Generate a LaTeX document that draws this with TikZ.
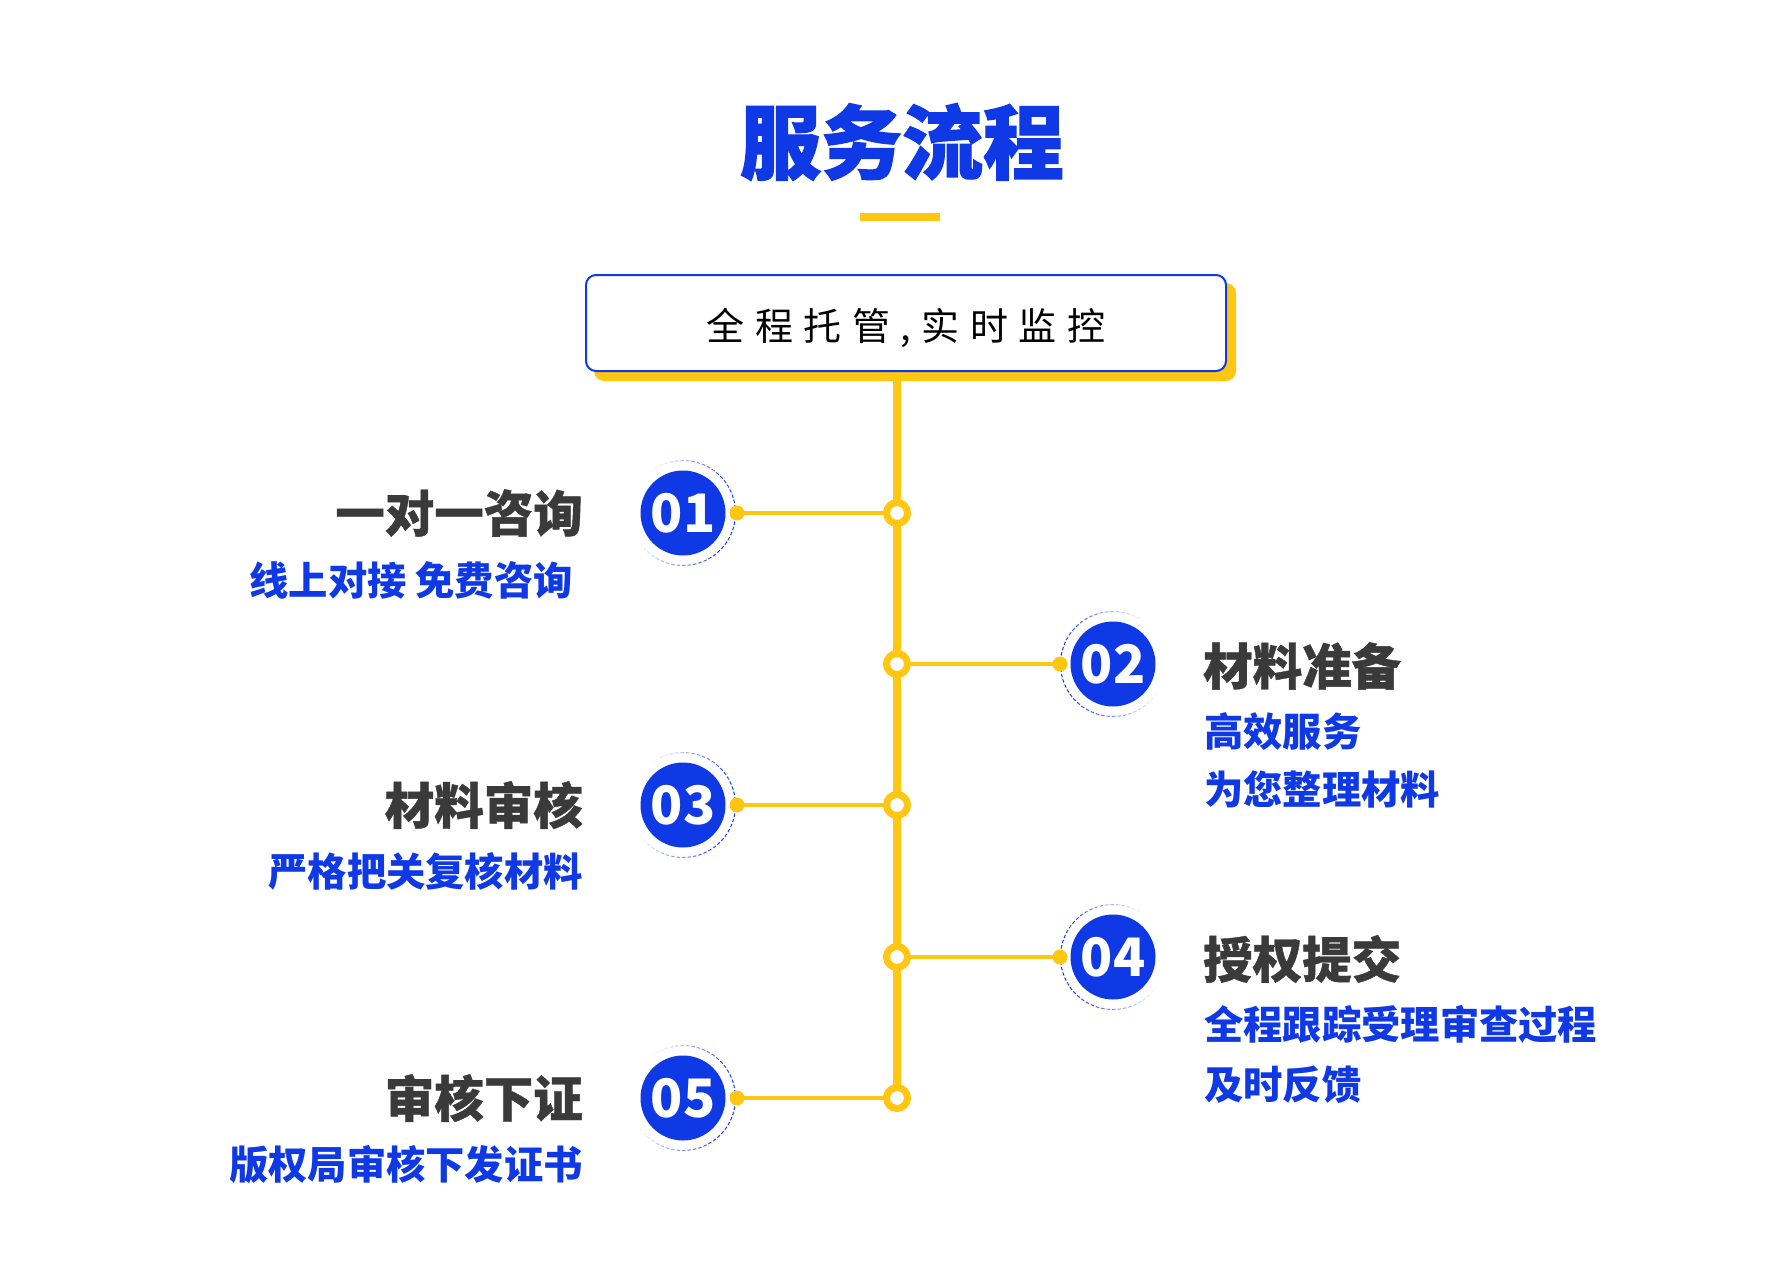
\documentclass[tikz,border=0pt]{standalone}
\usepackage{fontspec}
\setmainfont{Noto Sans CJK SC}
\newfontfamily\heavyfont{Noto Sans CJK SC}[BoldFeatures={FakeBold=1.6}]
\newfontfamily\semiheavy{Noto Sans CJK SC}[BoldFeatures={FakeBold=0.8}]
\definecolor{brandblue}{RGB}{16,57,230}
\definecolor{brandyellow}{RGB}{255,198,18}
\definecolor{darktext}{RGB}{58,58,58}
\pgfdeclarelayer{bg}
\pgfdeclarelayer{lines}
\pgfsetlayers{bg,lines,main}
\tikzset{
  stepnum/.style={circle, fill=brandblue, minimum size=85pt, inner sep=0pt, text=white,
    font=\bfseries\fontsize{53}{53}\selectfont},
  junction/.style={circle, draw=brandyellow, line width=7pt, fill=white, minimum size=21pt, inner sep=0pt},
  ydot/.style={circle, fill=brandyellow, minimum size=15pt, inner sep=0pt},
  trunk/.style={brandyellow, line width=8pt},
  branch/.style={brandyellow, line width=4.5pt},
  headtext/.style={text=darktext, inner sep=0pt, font=\semiheavy\bfseries\fontsize{49.5}{49.5}\selectfont},
  subtext/.style={text=brandblue, inner sep=0pt, font=\bfseries\fontsize{39.3}{39.3}\selectfont},
}
\newcommand\ringgrad[2]{%
  \foreach \a in {0,6,...,354}{%
    \pgfmathsetmacro\pp{max(0,min(100,45+60*cos(\a+3-#2)))}%
    \draw[brandblue!\pp!white, line width=1pt, dash pattern=on 2.5pt off 2pt]
      ([shift={(\a:52.5pt)}]#1.center) arc[start angle=\a, end angle=\a+6, radius=52.5pt];
  }%
}
\begin{document}
\begin{tikzpicture}[x=1pt,y=-1pt]
\begin{pgfonlayer}{bg}
  \fill[white] (0,0) rectangle (1780,1282);
\end{pgfonlayer}
\useasboundingbox (0,0) rectangle (1780,1282);

% title
\node[text=brandblue, inner sep=0pt, font=\heavyfont\bfseries\fontsize{81}{81}\selectfont] (title) at (902,142) {服务流程};
\node[fill=brandyellow, minimum width=80pt, minimum height=8pt, inner sep=0pt] (bar) at (900,217) {};

% top box
\node[draw=brandblue, line width=2pt, rounded corners=10pt, fill=white,
      minimum width=640pt, minimum height=96pt, inner sep=0pt] (box) at (906,323) {};
\node[inner sep=0pt, font=\fontsize{38}{38}\selectfont] (boxtext) at (906,328)
  {全\kern10.5pt 程\kern10.5pt 托\kern10.5pt 管\kern10.5pt ,\kern10.5pt 实\kern10.5pt 时\kern10.5pt 监\kern10.5pt 控};
\begin{pgfonlayer}{bg}
  \fill[brandyellow, rounded corners=10pt] ([shift={(9pt,-9pt)}]box.south west) rectangle ([shift={(9pt,-9pt)}]box.north east);
\end{pgfonlayer}

% junctions
\node[junction] (j1) at (897,513) {};
\node[junction] (j2) at (897,664) {};
\node[junction] (j3) at (897,805) {};
\node[junction] (j4) at (897,957) {};
\node[junction] (j5) at (897,1098) {};

% step circles
\node[stepnum] (n1) at (683,513) {01};
\node[stepnum] (n2) at (1113,664) {02};
\node[stepnum] (n3) at (683,805) {03};
\node[stepnum] (n4) at (1113,957) {04};
\node[stepnum] (n5) at (683,1098) {05};

\ringgrad{n1}{-10}
\ringgrad{n2}{190}
\ringgrad{n3}{-10}
\ringgrad{n4}{190}
\ringgrad{n5}{-10}

% dots on rings
\node[ydot] (d1) at ([xshift=54pt]n1.center) {};
\node[ydot] (d2) at ([xshift=-53pt]n2.center) {};
\node[ydot] (d3) at ([xshift=54pt]n3.center) {};
\node[ydot] (d4) at ([xshift=-53pt]n4.center) {};
\node[ydot] (d5) at ([xshift=54pt]n5.center) {};

% connectors
\begin{pgfonlayer}{lines}
  \draw[trunk] (j1 |- box.south) -- (j5.center);
  \draw[branch] (d1.center) -- (j1.center);
  \draw[branch] (j2.center) -- (d2.center);
  \draw[branch] (d3.center) -- (j3.center);
  \draw[branch] (j4.center) -- (d4.center);
  \draw[branch] (d5.center) -- (j5.center);
\end{pgfonlayer}

% texts left
\node[headtext, anchor=east] (h1) at (583,513) {一对一咨询};
\node[subtext, anchor=east] (s1) at (573,580) {线上对接 免费咨询};
\node[headtext, anchor=east] (h3) at (583,805) {材料审核};
\node[subtext, anchor=east] (s3) at (583,871) {严格把关复核材料};
\node[headtext, anchor=east] (h5) at (583,1098) {审核下证};
\node[subtext, anchor=east] (s5) at (583,1165) {版权局审核下发证书};

% texts right
\node[headtext, anchor=west] (h2) at (1203,666) {材料准备};
\node[subtext, anchor=west] (s2a) at (1204,731) {高效服务};
\node[subtext, anchor=west] (s2b) at (1204,789) {为您整理材料};
\node[headtext, anchor=west] (h4) at (1203,959) {授权提交};
\node[subtext, anchor=west] (s4a) at (1204,1024) {全程跟踪受理审查过程};
\node[subtext, anchor=west] (s4b) at (1204,1085) {及时反馈};
\end{tikzpicture}
\end{document}
